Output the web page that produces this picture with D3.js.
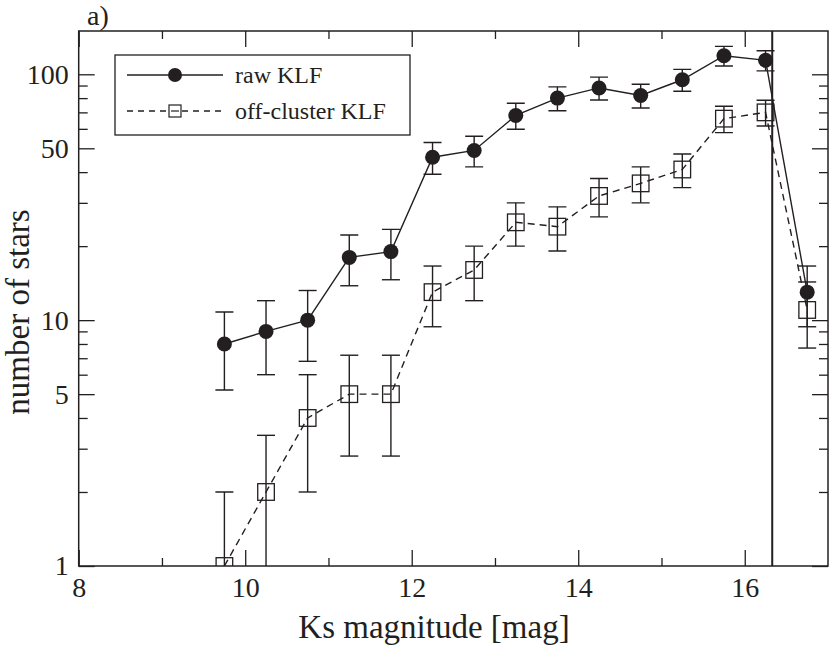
<!DOCTYPE html>
<html>
<head>
<meta charset="utf-8">
<script src="https://cdn.jsdelivr.net/npm/d3@7/dist/d3.min.js"></script>
<style>
  html, body { margin: 0; padding: 0; background: #fff; }
  svg text { font-family: "Liberation Serif", Tinos, "DejaVu Serif", "Times New Roman", Times, serif; fill: #231f20; }
</style>
</head>
<body>
<svg id="chart" width="830" height="646"></svg>
<script>
// ---- data ----
const magnitudes = [9.75, 10.25, 10.75, 11.25, 11.75, 12.25, 12.75, 13.25, 13.75, 14.25, 14.75, 15.25, 15.75, 16.25, 16.75];
const rawKLF      = [8, 9, 10, 18, 19, 46, 49, 68, 80, 88, 82, 95, 119, 114, 13];
const rawErr      = [2.8, 3.0, 3.2, 4.2, 4.4, 6.8, 7.0, 8.2, 8.9, 9.4, 9.1, 9.7, 10.9, 10.7, 3.6];
const offKLF      = [1, 2, 4, 5, 5, 13, 16, 25, 24, 32, 36, 41, 66, 70, 11];
const offErr      = [1.0, 1.4, 2.0, 2.2, 2.2, 3.6, 4.0, 5.0, 4.9, 5.7, 6.0, 6.4, 8.1, 8.4, 3.3];
const completenessLimit = 16.33;
const xMajorTicks = [8, 10, 12, 14, 16];
const xMinorTicks = [9, 11, 13, 15];
const yMajorTicks = [1, 5, 10, 50, 100];
const yMinorTicks = [2, 3, 4, 6, 7, 8, 9, 20, 30, 40, 60, 70, 80, 90];
const seriesNames = ["raw KLF", "off-cluster KLF"];

(function () {
// ---- layout ----
const ink = "#231f20";
const serif = '"Liberation Serif", Tinos, "DejaVu Serif", "Times New Roman", Times, serif';
const pL = 78.7, pR = 828, pT = 31, pB = 566;
const svg = d3.select("#chart");

const x = d3.scaleLinear().domain([8, 17]).range([pL, pR]);
const y = d3.scaleLog().domain([1, 150]).range([pB, pT]);

// clip
svg.append("defs").append("clipPath").attr("id", "plotclip")
  .append("rect").attr("x", pL).attr("y", pT).attr("width", pR - pL).attr("height", pB - pT);

function styleAxis(g) {
  g.attr("font-family", null);
  g.select(".domain").remove();
  g.selectAll("line").attr("stroke", ink).attr("stroke-width", 1.3);
  g.selectAll("text").style("font-family", serif).attr("font-size", 28).attr("fill", ink);
}

// bottom axis
svg.append("g").attr("transform", `translate(0,${pB})`)
  .call(d3.axisBottom(x).tickValues(xMajorTicks).tickFormat(d3.format("d")).tickSize(-16).tickPadding(11))
  .call(styleAxis);
svg.append("g").attr("transform", `translate(0,${pB})`)
  .call(d3.axisBottom(x).tickValues(xMinorTicks).tickFormat("").tickSize(-8))
  .call(styleAxis);
// top axis
svg.append("g").attr("transform", `translate(0,${pT})`)
  .call(d3.axisTop(x).tickValues(xMajorTicks).tickFormat("").tickSize(-16))
  .call(styleAxis);
svg.append("g").attr("transform", `translate(0,${pT})`)
  .call(d3.axisTop(x).tickValues(xMinorTicks).tickFormat("").tickSize(-8))
  .call(styleAxis);
// left axis
svg.append("g").attr("transform", `translate(${pL},0)`)
  .call(d3.axisLeft(y).tickValues(yMajorTicks).tickFormat(d3.format("d")).tickSize(-16).tickPadding(10))
  .call(styleAxis);
svg.append("g").attr("transform", `translate(${pL},0)`)
  .call(d3.axisLeft(y).tickValues(yMinorTicks).tickFormat("").tickSize(-9))
  .call(styleAxis);
// right axis
svg.append("g").attr("transform", `translate(${pR},0)`)
  .call(d3.axisRight(y).tickValues(yMajorTicks).tickFormat("").tickSize(-16))
  .call(styleAxis);
svg.append("g").attr("transform", `translate(${pR},0)`)
  .call(d3.axisRight(y).tickValues(yMinorTicks).tickFormat("").tickSize(-9))
  .call(styleAxis);

// frame
svg.append("rect").attr("x", pL).attr("y", pT).attr("width", pR - pL).attr("height", pB - pT)
  .attr("fill", "none").attr("stroke", ink).attr("stroke-width", 1.5);

// completeness limit line
svg.append("line")
  .attr("x1", x(completenessLimit)).attr("x2", x(completenessLimit))
  .attr("y1", pT).attr("y2", pB)
  .attr("stroke", ink).attr("stroke-width", 2);

const plot = svg.append("g").attr("clip-path", "url(#plotclip)");

function drawSeries(vals, errs, dashed, marker) {
  const pts = magnitudes.map((m, i) => ({ m, v: vals[i], e: errs[i] }));
  // error bars
  const eb = plot.append("g").attr("stroke", ink).attr("stroke-width", 1.4).attr("fill", "none");
  pts.forEach(p => {
    const hi = y(p.v + p.e);
    const lo = (p.v - p.e) > 0 ? y(p.v - p.e) : pB + 30;
    eb.append("line").attr("x1", x(p.m)).attr("x2", x(p.m)).attr("y1", hi).attr("y2", lo);
    eb.append("line").attr("x1", x(p.m) - 9).attr("x2", x(p.m) + 9).attr("y1", hi).attr("y2", hi);
    eb.append("line").attr("x1", x(p.m) - 9).attr("x2", x(p.m) + 9).attr("y1", lo).attr("y2", lo);
  });
  // line
  const line = d3.line().x(p => x(p.m)).y(p => y(p.v));
  plot.append("path").datum(pts).attr("d", line)
    .attr("fill", "none").attr("stroke", ink).attr("stroke-width", 1.4)
    .attr("stroke-dasharray", dashed ? "7,5" : null);
  // markers
  if (marker === "circle") {
    plot.append("g").selectAll("circle").data(pts).join("circle")
      .attr("cx", p => x(p.m)).attr("cy", p => y(p.v)).attr("r", 7.5)
      .attr("fill", ink);
  } else {
    plot.append("g").selectAll("rect").data(pts).join("rect")
      .attr("x", p => x(p.m) - 8.3).attr("y", p => y(p.v) - 8.3)
      .attr("width", 16.6).attr("height", 16.6)
      .attr("fill", "none").attr("stroke", ink).attr("stroke-width", 1.3);
  }
}

drawSeries(offKLF, offErr, true, "square");
drawSeries(rawKLF, rawErr, false, "circle");

// legend
const lg = svg.append("g");
lg.append("rect").attr("x", 115).attr("y", 55).attr("width", 295).attr("height", 80)
  .attr("fill", "#fff").attr("stroke", ink).attr("stroke-width", 1.3);
lg.append("line").attr("x1", 127).attr("x2", 223).attr("y1", 75).attr("y2", 75)
  .attr("stroke", ink).attr("stroke-width", 1.4);
lg.append("circle").attr("cx", 175).attr("cy", 75).attr("r", 7).attr("fill", ink);
lg.append("line").attr("x1", 127).attr("x2", 223).attr("y1", 111).attr("y2", 111)
  .attr("stroke", ink).attr("stroke-width", 1.3).attr("stroke-dasharray", "6,5");
lg.append("rect").attr("x", 169).attr("y", 105).attr("width", 12).attr("height", 12)
  .attr("fill", "#fff").attr("stroke", ink).attr("stroke-width", 1.2);
lg.append("line").attr("x1", 171).attr("x2", 179).attr("y1", 111).attr("y2", 111)
  .attr("stroke", ink).attr("stroke-width", 1.2);
lg.append("text").attr("x", 235).attr("y", 83).attr("font-size", 24).style("font-family", serif).text(seriesNames[0]);
lg.append("text").attr("x", 235).attr("y", 119).attr("font-size", 24).style("font-family", serif).text(seriesNames[1]);

// labels
svg.append("text").attr("x", 87).attr("y", 25).attr("font-size", 28).style("font-family", serif).text("a)");
svg.append("text").attr("x", 434).attr("y", 638).attr("text-anchor", "middle")
  .attr("font-size", 33).style("font-family", serif).text("Ks magnitude [mag]");
svg.append("text").attr("transform", "translate(29,312) rotate(-90)").attr("text-anchor", "middle")
  .attr("font-size", 33).style("font-family", serif).text("number of stars");
})();
</script>
</body>
</html>
